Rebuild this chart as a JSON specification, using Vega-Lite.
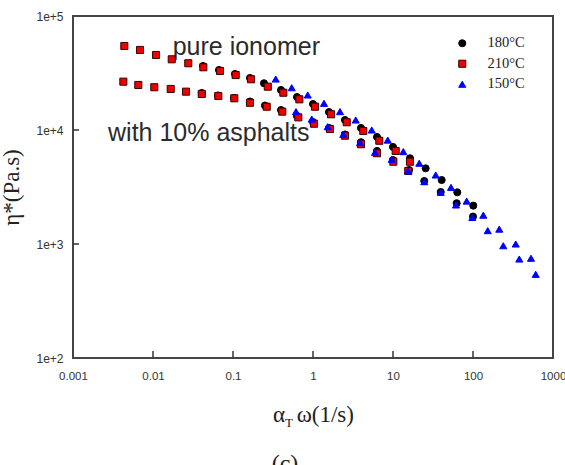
{
  "$schema": "https://vega.github.io/schema/vega-lite/v6.json",
  "autosize": "none",
  "width": 480,
  "height": 342,
  "padding": {"left": 73, "top": 16, "right": 12, "bottom": 107},
  "background": "white",
  "view": {"stroke": "#454545", "strokeWidth": 2},
  "title": {
    "text": "(c)",
    "orient": "bottom",
    "anchor": "middle",
    "offset": 22,
    "dx": -28,
    "font": "Liberation Serif",
    "fontSize": 24,
    "fontWeight": "normal",
    "color": "#222"
  },
  "data": {
    "values": [
      {"t": "180°C", "s": "pure", "x": 0.0422, "y": 36400},
      {"t": "180°C", "s": "pure", "x": 0.0668, "y": 33590},
      {"t": "180°C", "s": "pure", "x": 0.106, "y": 30990},
      {"t": "180°C", "s": "pure", "x": 0.163, "y": 28590},
      {"t": "180°C", "s": "pure", "x": 0.244, "y": 25700},
      {"t": "180°C", "s": "pure", "x": 0.398, "y": 22440},
      {"t": "180°C", "s": "pure", "x": 0.631, "y": 19460},
      {"t": "180°C", "s": "pure", "x": 1.0, "y": 16900},
      {"t": "180°C", "s": "pure", "x": 1.585, "y": 14380},
      {"t": "180°C", "s": "pure", "x": 2.51, "y": 12240},
      {"t": "180°C", "s": "pure", "x": 3.98, "y": 10420},
      {"t": "180°C", "s": "pure", "x": 6.31, "y": 8690},
      {"t": "180°C", "s": "pure", "x": 10.0, "y": 7100},
      {"t": "180°C", "s": "pure", "x": 16.3, "y": 5650},
      {"t": "180°C", "s": "pure", "x": 25.6, "y": 4610},
      {"t": "180°C", "s": "pure", "x": 40.6, "y": 3640},
      {"t": "180°C", "s": "pure", "x": 63.6, "y": 2840},
      {"t": "180°C", "s": "pure", "x": 100.9, "y": 2170},
      {"t": "180°C", "s": "asph", "x": 0.0407, "y": 21140},
      {"t": "180°C", "s": "asph", "x": 0.0649, "y": 20090},
      {"t": "180°C", "s": "asph", "x": 0.103, "y": 19100},
      {"t": "180°C", "s": "asph", "x": 0.163, "y": 17780},
      {"t": "180°C", "s": "asph", "x": 0.251, "y": 16400},
      {"t": "180°C", "s": "asph", "x": 0.398, "y": 14960},
      {"t": "180°C", "s": "asph", "x": 0.631, "y": 13260},
      {"t": "180°C", "s": "asph", "x": 1.0, "y": 11740},
      {"t": "180°C", "s": "asph", "x": 1.585, "y": 10420},
      {"t": "180°C", "s": "asph", "x": 2.51, "y": 9140},
      {"t": "180°C", "s": "asph", "x": 3.98, "y": 7820},
      {"t": "180°C", "s": "asph", "x": 6.31, "y": 6550},
      {"t": "180°C", "s": "asph", "x": 10.0, "y": 5460},
      {"t": "180°C", "s": "asph", "x": 15.85, "y": 4460},
      {"t": "180°C", "s": "asph", "x": 24.6, "y": 3570},
      {"t": "180°C", "s": "asph", "x": 39.5, "y": 2860},
      {"t": "180°C", "s": "asph", "x": 62.5, "y": 2280},
      {"t": "180°C", "s": "asph", "x": 100.0, "y": 1740},
      {"t": "210°C", "s": "pure", "x": 0.00438, "y": 54550},
      {"t": "210°C", "s": "pure", "x": 0.00688, "y": 50350},
      {"t": "210°C", "s": "pure", "x": 0.0109, "y": 45500},
      {"t": "210°C", "s": "pure", "x": 0.01715, "y": 41700},
      {"t": "210°C", "s": "pure", "x": 0.0276, "y": 38500},
      {"t": "210°C", "s": "pure", "x": 0.0426, "y": 35500},
      {"t": "210°C", "s": "pure", "x": 0.0688, "y": 32960},
      {"t": "210°C", "s": "pure", "x": 0.108, "y": 30350},
      {"t": "210°C", "s": "pure", "x": 0.168, "y": 27860},
      {"t": "210°C", "s": "pure", "x": 0.272, "y": 23990},
      {"t": "210°C", "s": "pure", "x": 0.426, "y": 21230},
      {"t": "210°C", "s": "pure", "x": 0.675, "y": 18580},
      {"t": "210°C", "s": "pure", "x": 1.06, "y": 16000},
      {"t": "210°C", "s": "pure", "x": 1.68, "y": 13740},
      {"t": "210°C", "s": "pure", "x": 2.64, "y": 11690},
      {"t": "210°C", "s": "pure", "x": 4.25, "y": 9800},
      {"t": "210°C", "s": "pure", "x": 6.74, "y": 8050},
      {"t": "210°C", "s": "pure", "x": 10.8, "y": 6550},
      {"t": "210°C", "s": "pure", "x": 16.3, "y": 5270},
      {"t": "210°C", "s": "asph", "x": 0.00426, "y": 26550},
      {"t": "210°C", "s": "asph", "x": 0.00655, "y": 24830},
      {"t": "210°C", "s": "asph", "x": 0.01038, "y": 23720},
      {"t": "210°C", "s": "asph", "x": 0.01664, "y": 22910},
      {"t": "210°C", "s": "asph", "x": 0.02586, "y": 21690},
      {"t": "210°C", "s": "asph", "x": 0.0407, "y": 20700},
      {"t": "210°C", "s": "asph", "x": 0.0655, "y": 19870},
      {"t": "210°C", "s": "asph", "x": 0.1038, "y": 18970},
      {"t": "210°C", "s": "asph", "x": 0.163, "y": 17330},
      {"t": "210°C", "s": "asph", "x": 0.264, "y": 16000},
      {"t": "210°C", "s": "asph", "x": 0.413, "y": 14490},
      {"t": "210°C", "s": "asph", "x": 0.655, "y": 12910},
      {"t": "210°C", "s": "asph", "x": 1.03, "y": 11350},
      {"t": "210°C", "s": "asph", "x": 1.63, "y": 10200},
      {"t": "210°C", "s": "asph", "x": 2.51, "y": 8910},
      {"t": "210°C", "s": "asph", "x": 3.98, "y": 7500},
      {"t": "210°C", "s": "asph", "x": 6.31, "y": 6250},
      {"t": "210°C", "s": "asph", "x": 10.1, "y": 5270},
      {"t": "210°C", "s": "asph", "x": 15.5, "y": 4370},
      {"t": "150°C", "s": "pure", "x": 0.342, "y": 28000},
      {"t": "150°C", "s": "pure", "x": 0.542, "y": 23490},
      {"t": "150°C", "s": "pure", "x": 0.859, "y": 20280},
      {"t": "150°C", "s": "pure", "x": 1.373, "y": 17140},
      {"t": "150°C", "s": "pure", "x": 2.175, "y": 14490},
      {"t": "150°C", "s": "pure", "x": 3.42, "y": 12240},
      {"t": "150°C", "s": "pure", "x": 5.42, "y": 10000},
      {"t": "150°C", "s": "pure", "x": 8.59, "y": 8160},
      {"t": "150°C", "s": "pure", "x": 13.45, "y": 6460},
      {"t": "150°C", "s": "pure", "x": 21.3, "y": 5110},
      {"t": "150°C", "s": "pure", "x": 34.2, "y": 4030},
      {"t": "150°C", "s": "pure", "x": 53.1, "y": 3140},
      {"t": "150°C", "s": "pure", "x": 83.4, "y": 2380},
      {"t": "150°C", "s": "pure", "x": 134.5, "y": 1790},
      {"t": "150°C", "s": "pure", "x": 213, "y": 1350},
      {"t": "150°C", "s": "pure", "x": 342, "y": 1000},
      {"t": "150°C", "s": "pure", "x": 531, "y": 750},
      {"t": "150°C", "s": "asph", "x": 0.613, "y": 14490},
      {"t": "150°C", "s": "asph", "x": 0.964, "y": 12470},
      {"t": "150°C", "s": "asph", "x": 1.527, "y": 10690},
      {"t": "150°C", "s": "asph", "x": 2.39, "y": 9160},
      {"t": "150°C", "s": "asph", "x": 3.87, "y": 7740},
      {"t": "150°C", "s": "asph", "x": 5.96, "y": 6370},
      {"t": "150°C", "s": "asph", "x": 9.64, "y": 5530},
      {"t": "150°C", "s": "asph", "x": 15.5, "y": 4370},
      {"t": "150°C", "s": "asph", "x": 24.6, "y": 3520},
      {"t": "150°C", "s": "asph", "x": 39.5, "y": 2840},
      {"t": "150°C", "s": "asph", "x": 61.3, "y": 2200},
      {"t": "150°C", "s": "asph", "x": 98, "y": 1710},
      {"t": "150°C", "s": "asph", "x": 152.8, "y": 1310},
      {"t": "150°C", "s": "asph", "x": 239, "y": 966},
      {"t": "150°C", "s": "asph", "x": 379, "y": 738},
      {"t": "150°C", "s": "asph", "x": 608, "y": 542}
    ]
  },
  "layer": [
    {
      "data": {"values": [{"x": 0.01}, {"x": 0.1}, {"x": 1}, {"x": 10}, {"x": 100}]},
      "mark": {"type": "rule", "color": "#333333", "strokeWidth": 1.5},
      "encoding": {
        "x": {"field": "x", "type": "quantitative"},
        "y": {"datum": 100, "type": "quantitative"},
        "y2": {"datum": 115}
      }
    },
    {
      "data": {"values": [{"y": 1000}, {"y": 10000}]},
      "mark": {"type": "rule", "color": "#333333", "strokeWidth": 1.5},
      "encoding": {
        "y": {"field": "y", "type": "quantitative"},
        "x": {"datum": 0.001, "type": "quantitative"},
        "x2": {"datum": 0.00119}
      }
    },
    {
      "data": {"values": [{}]},
      "mark": {"type": "text", "align": "left", "baseline": "alphabetic", "font": "Liberation Sans", "fontSize": 25, "color": "#2b2b2b"},
      "encoding": {
        "x": {"datum": 0.01762, "type": "quantitative"},
        "y": {"datum": 45500, "type": "quantitative"},
        "text": {"value": "pure ionomer"}
      }
    },
    {
      "data": {"values": [{}]},
      "mark": {"type": "text", "align": "left", "baseline": "alphabetic", "font": "Liberation Sans", "fontSize": 25, "color": "#2b2b2b"},
      "encoding": {
        "x": {"datum": 0.00274, "type": "quantitative"},
        "y": {"datum": 8050, "type": "quantitative"},
        "text": {"value": "with 10% asphalts"}
      }
    },
    {
      "data": {"values": [{}]},
      "mark": {"type": "text", "align": "center", "baseline": "middle", "font": "Liberation Serif", "fontSize": 13, "color": "#222"},
      "encoding": {
        "x": {"datum": 0.5, "type": "quantitative"},
        "y": {"datum": 27, "type": "quantitative"},
        "text": {"value": "T"}
      }
    },
    {
      "mark": {"type": "point", "filled": true, "size": 50, "strokeWidth": 1, "opacity": 1},
      "encoding": {
        "x": {
          "field": "x",
          "type": "quantitative",
          "scale": {"type": "log", "domain": [0.001, 1000], "nice": false},
          "axis": {
            "values": [0.001, 0.01, 0.1, 1, 10, 100, 1000],
            "format": "~g",
            "ticks": false,
            "labelPadding": 12,
            "title": "α\u2002ω(1/s)",
            "titleFontSize": 23,
            "titleY": 56,
            "titleBaseline": "middle"
          }
        },
        "y": {
          "field": "y",
          "type": "quantitative",
          "scale": {"type": "log", "domain": [100, 100000], "nice": false},
          "axis": {
            "values": [100, 1000, 10000, 100000],
            "format": ".0e",
            "ticks": false,
            "labelPadding": 10,
            "title": "η*(Pa.s)",
            "titleFontSize": 23,
            "titleAngle": -90,
            "titleX": -50,
            "titleY": 171,
            "titleAlign": "center",
            "titleBaseline": "bottom"
          }
        },
        "fill": {
          "field": "t",
          "type": "nominal",
          "scale": {"domain": ["180°C", "210°C", "150°C"], "range": ["#000000", "#ee0000", "#0000ff"]},
          "legend": {"title": null}
        },
        "stroke": {
          "field": "t",
          "type": "nominal",
          "scale": {"domain": ["180°C", "210°C", "150°C"], "range": ["#000000", "#3a0000", "#0000ff"]},
          "legend": {"title": null}
        },
        "shape": {
          "field": "t",
          "type": "nominal",
          "scale": {"domain": ["180°C", "210°C", "150°C"], "range": ["circle", "square", "triangle-up"]},
          "legend": {"title": null}
        }
      }
    }
  ],
  "config": {
    "axis": {
      "domain": false,
      "grid": false,
      "labelFont": "Liberation Sans",
      "labelFontSize": 12,
      "labelColor": "#333",
      "labelFlush": false,
      "labelOverlap": false,
      "labelBound": false,
      "titleFont": "Liberation Serif",
      "titleFontWeight": "normal",
      "titleColor": "#222"
    },
    "axisX": {"labelFontSize": 11.5},
    "legend": {
      "orient": "none",
      "legendX": 382,
      "legendY": 20,
      "padding": 0,
      "symbolSize": 50,
      "symbolStrokeWidth": 1,
      "labelFont": "Liberation Serif",
      "labelFontSize": 14.5,
      "labelColor": "#222",
      "labelOffset": 18,
      "rowPadding": 5.5
    }
  }
}
